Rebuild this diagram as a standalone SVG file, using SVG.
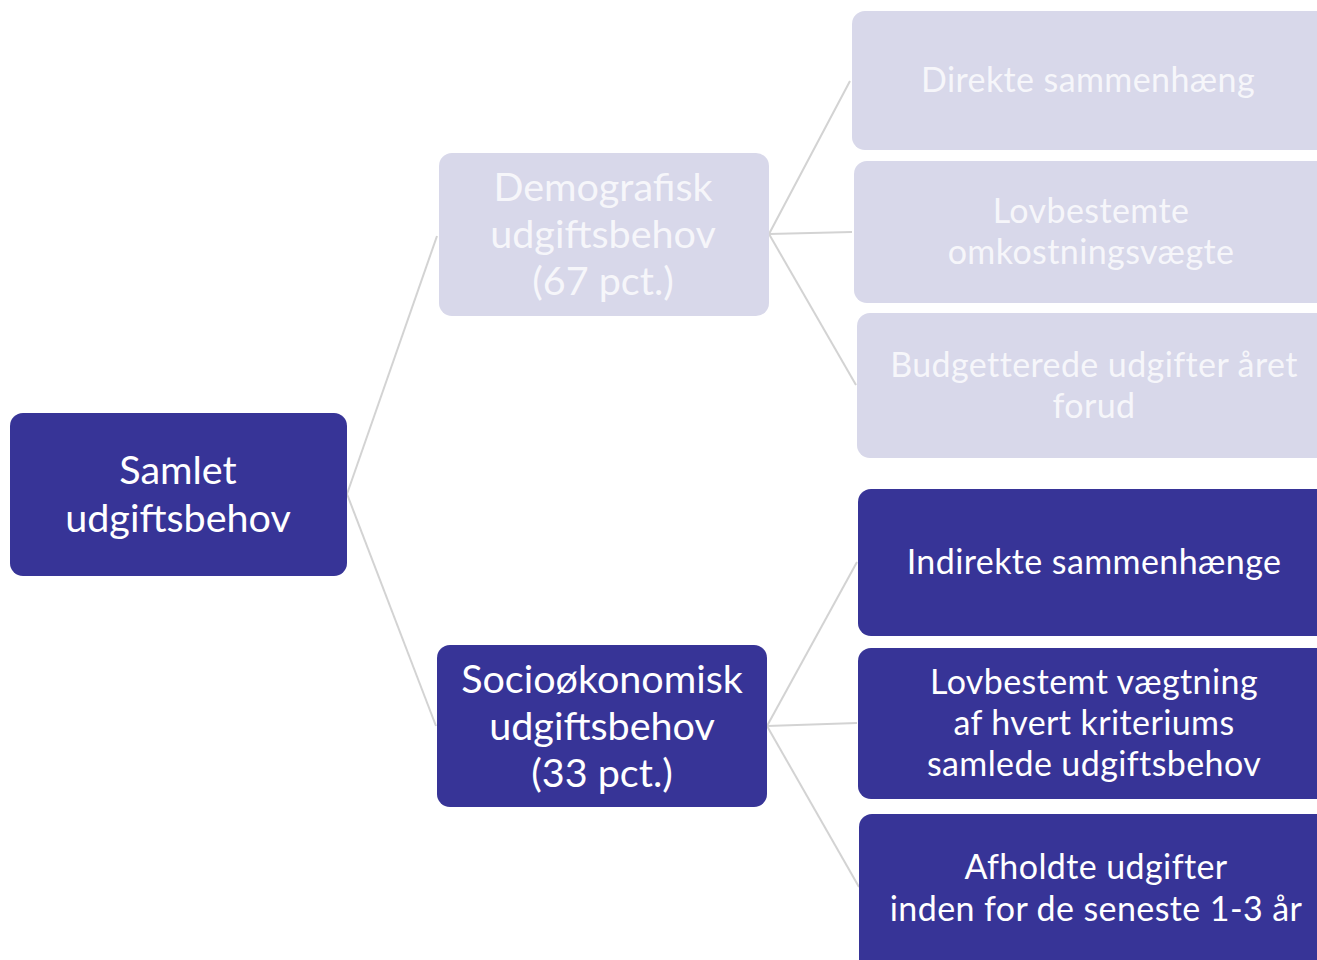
<svg xmlns="http://www.w3.org/2000/svg" width="1317" height="960" viewBox="0 0 1317 960">
<style>
.dark{fill:#373497}
.light{fill:#d8d8ea}
text{font-family:Lato,"Open Sans",sans-serif;text-anchor:middle;dominant-baseline:central}
.td{fill:#ffffff}
.tl{fill:#f6f6fa}
.big{font-size:39.5px}
.sm{font-size:34px;letter-spacing:0.4px}
.conn line{stroke:#d3d3d3;stroke-width:2;fill:none}
</style>
<rect width="1317" height="960" fill="#ffffff"/>
<g id="connectors" class="conn">
<line x1="347" y1="494" x2="437" y2="236"/>
<line x1="347" y1="494" x2="436" y2="726"/>
<line x1="769" y1="234" x2="850" y2="81"/>
<line x1="769" y1="234" x2="852" y2="232"/>
<line x1="769" y1="234" x2="856" y2="385"/>
<line x1="767" y1="726" x2="857" y2="562"/>
<line x1="767" y1="726" x2="857" y2="723"/>
<line x1="767" y1="726" x2="859" y2="887"/>
</g>
<g id="root">
<rect class="dark" x="10" y="413" width="337" height="163" rx="13"/>
<text class="td big" x="178" y="468">Samlet</text>
<text class="td big" x="178" y="516">udgiftsbehov</text>
</g>
<g id="demografisk">
<rect class="light" x="439" y="153" width="330" height="163" rx="13"/>
<text class="tl big" x="603" y="185">Demografisk</text>
<text class="tl big" x="603" y="232">udgiftsbehov</text>
<text class="tl big" x="603" y="279">(67 pct.)</text>
</g>
<g id="socio">
<rect class="dark" x="437" y="645" width="330" height="162" rx="13"/>
<text class="td big" x="602" y="677">Socioøkonomisk</text>
<text class="td big" x="602" y="724">udgiftsbehov</text>
<text class="td big" x="602" y="771">(33 pct.)</text>
</g>
<g id="direkte">
<rect class="light" x="852" y="11" width="480" height="139" rx="13"/>
<text class="tl sm" x="1088" y="78">Direkte sammenhæng</text>
</g>
<g id="lovbestemte">
<rect class="light" x="854" y="161" width="480" height="142" rx="13"/>
<text class="tl sm" x="1091" y="209">Lovbestemte</text>
<text class="tl sm" x="1091" y="250">omkostningsvægte</text>
</g>
<g id="budgetterede">
<rect class="light" x="857" y="313" width="480" height="145" rx="13"/>
<text class="tl sm" x="1094" y="363">Budgetterede udgifter året</text>
<text class="tl sm" x="1094" y="404">forud</text>
</g>
<g id="indirekte">
<rect class="dark" x="858" y="489" width="480" height="147" rx="13"/>
<text class="td sm" x="1094" y="560">Indirekte sammenhænge</text>
</g>
<g id="vaegtning">
<rect class="dark" x="858" y="648" width="480" height="151" rx="13"/>
<text class="td sm" x="1094" y="680">Lovbestemt vægtning</text>
<text class="td sm" x="1094" y="721">af hvert kriteriums</text>
<text class="td sm" x="1094" y="762">samlede udgiftsbehov</text>
</g>
<g id="afholdte">
<rect class="dark" x="859" y="814" width="480" height="160" rx="13"/>
<text class="td sm" x="1096" y="865">Afholdte udgifter</text>
<text class="td sm" x="1096" y="907">inden for de seneste 1-3 år</text>
</g>
</svg>
